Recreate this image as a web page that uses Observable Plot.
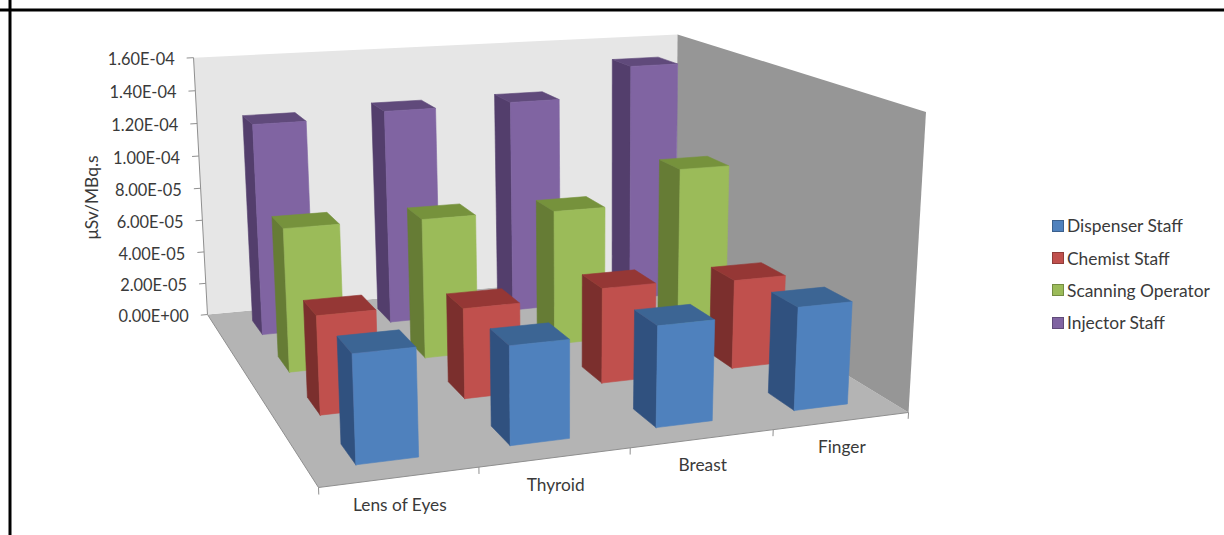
<!DOCTYPE html>
<html><head><meta charset="utf-8">
<script src="https://cdn.jsdelivr.net/npm/d3@7"></script>
<script src="https://cdn.jsdelivr.net/npm/@observablehq/plot@0.6"></script>
<style>
html,body{margin:0;padding:0;background:#fff}
#wrap{position:relative;width:1224px;height:535px;overflow:hidden}
#legend{position:absolute;left:1052px;top:209.5px;font:17.4px Lato,sans-serif;color:#3a3a3a}
#legend div{display:flex;align-items:center;height:32.4px;white-space:nowrap}
#legend i{display:block;width:10px;height:10px;margin-right:3px;border:1px solid rgba(0,0,0,.25)}
</style></head>
<body><div id="wrap"><div id="legend"></div></div>
<script>
const categories = ["Lens of Eyes", "Thyroid", "Breast", "Finger"];
const seriesNames = ["Dispenser Staff", "Chemist Staff", "Scanning Operator", "Injector Staff"];
const dispenser = [5.63e-5, 5.21e-5, 5.44e-5, 5.65e-5];
const chemist   = [5.40e-5, 5.02e-5, 5.39e-5, 5.12e-5];
const scanning  = [8.26e-5, 8.15e-5, 8.00e-5, 9.93e-5];
const injector  = [1.273e-4, 1.304e-4, 1.313e-4, 1.494e-4];
const seriesValues = [dispenser, chemist, scanning, injector];
const yTicks = [0, 2e-5, 4e-5, 6e-5, 8e-5, 1e-4, 1.2e-4, 1.4e-4, 1.6e-4];
const yMax = 1.6e-4;
const frontColors = ["#4f81bd", "#c0504d", "#9bbb59", "#8064a2"];
const topColors   = ["#3c6594", "#953735", "#76923c", "#604a7b"];
const sideColors  = ["#30517f", "#7b2f2d", "#667c35", "#533e6c"];

// Perspective camera of the 3-D scene: (u across categories, v into depth, w up) to the page
const project = (u, v, w) => {
  const W = 1 + 0.12*u + 0.32*v - 0.0436*w;
  return [(699*u - 44.8*v - 26.8*w + 6*u*(1-v)*w + 318)/W, (-25.6*u - 72.5*v - 341.5*w + 487)/W];
};
const faces = [];
function face(id, color, corners) {
  const pts = [...corners, corners[0]];
  for (const [u,v,w] of pts) { const [x,y] = project(u,v,w); faces.push({id,color,x,y}); }
}
face("floor", "#b4b4b4", [[0,0,0],[1,0,0],[1,1,0],[0,1,0]]);
face("back",  "#e6e6e6", [[0,1,0],[1,1,0],[1,1,1],[0,1,1]]);
face("side",  "#969696", [[1,1,0],[1,0,0],[1,0,1],[1,1,1]]);
const wallFaces = faces.length;
const gap = 0.3, barSize = 0.4;
for (let s = 3; s >= 0; s--) for (let c = 3; c >= 0; c--) {
  const u0 = (c+gap)/4, u1 = (c+gap+barSize)/4, v0 = (s+gap)/4, v1 = (s+gap+barSize)/4;
  const h = seriesValues[s][c]/yMax, id = `${s}-${c}`;
  face(id+"side", sideColors[s], [[u0,v0,0],[u0,v1,0],[u0,v1,h],[u0,v0,h]]);
  face(id+"top", topColors[s], [[u0,v0,h],[u0,v1,h],[u1,v1,h],[u1,v0,h]]);
  face(id+"front", frontColors[s], [[u0,v0,0],[u1,v0,0],[u1,v0,h],[u0,v0,h]]);
}
const link = (a,b) => { const p=project(...a), q=project(...b); return {x1:p[0],y1:p[1],x2:q[0],y2:q[1]}; };
const axisLines = [
  link([0,1,0],[0,1,1]), link([0,0,0],[1,0,0]), link([0,0,0],[0,1,0]),
  ...yTicks.map(t => link([0,1,t/yMax],[-0.013,1,t/yMax])),
  ...d3.range(5).map(k => link([k/4,0,0],[k/4,0,-0.022]))
];
const yLabels = yTicks.map(t => {
  const [x,y] = project(-0.013,1,t/yMax);
  return {x:x-12, y:y+2, label:t.toExponential(2).replace(/e([+-])(\d)$/,"E$10$2").replace("e","E")};
});
const catLabels = categories.map((label,i) => {
  const [x,y] = project((i+.5)/4,0,0);
  return {x, y:y+28.5-0.7*i, label};
});
const txt = "#3a3a3a";
const chart = Plot.plot({
  width:1224, height:535, margin:0,
  x:{type:"identity", axis:null}, y:{type:"identity", axis:null},
  color:{type:"identity"},
  style:{background:"transparent"},
  marks:[
    Plot.line(faces.slice(0,wallFaces),{x:"x",y:"y",z:"id",fill:"color",stroke:"none",curve:"linear"}),
    Plot.link(axisLines,{x1:"x1",y1:"y1",x2:"x2",y2:"y2",stroke:"#8f8f8f",strokeWidth:1}),
    Plot.line(faces.slice(wallFaces),{x:"x",y:"y",z:"id",fill:"color",stroke:"color",strokeWidth:0.6,curve:"linear"}),
    Plot.text(yLabels,{x:"x",y:"y",text:"label",textAnchor:"end",fontSize:16.4,fontFamily:"Lato",fill:txt}),
    Plot.text(catLabels,{x:"x",y:"y",text:"label",fontSize:17.3,fontFamily:"Lato",fill:txt}),
    Plot.text(["μSv/MBq.s"],{x:()=>92,y:()=>197,text:d=>d,rotate:-90,fontSize:17.4,fontFamily:"Lato",fill:txt}),
    Plot.ruleX([9.5],{stroke:"#000",strokeWidth:3}),
    Plot.ruleY([9.5],{stroke:"#000",strokeWidth:3})
  ]
});
document.getElementById("wrap").prepend(chart);
document.getElementById("legend").innerHTML = seriesNames.map((n,i)=>`<div><i style="background:${frontColors[i]}"></i><span>${n}</span></div>`).join("");
</script>
</body></html>
